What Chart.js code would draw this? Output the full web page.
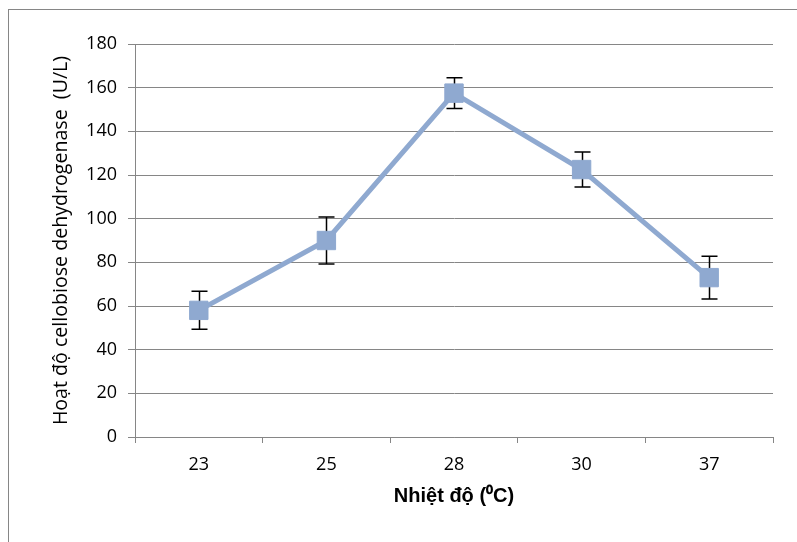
<!DOCTYPE html>
<html>
<head>
<meta charset="utf-8">
<script src="https://cdn.jsdelivr.net/npm/chart.js@4"></script>
<style>
    html, body { margin: 0; padding: 0; background: #fff; }
    #wrap { width: 797px; height: 542px; }
</style>
</head>
<body>
<div id="wrap"><canvas id="temp-chart"></canvas></div>
<script>
'use strict';

// Nhiệt độ (°C) vs hoạt độ CDH
const temperatures = ['23', '25', '28', '30', '37'];
const activity = [58, 90, 157.5, 122.5, 73];
const activityErr = [8.7, 10.8, 7, 8, 9.8];
const yTicks = [0, 20, 40, 60, 80, 100, 120, 140, 160, 180];

const lineColor = 'rgb(143,169,208)';
const gridColor = 'rgb(134,134,134)';

// draws the vertical error bars with caps, using the chart's own scales
const errorBars = {
    id: 'errorBars',
    beforeDatasetsDraw(chart) {
        const ctx = chart.ctx;
        const xs = chart.scales.x, ys = chart.scales.y;
        ctx.save();
        ctx.strokeStyle = '#000';
        ctx.lineWidth = 1.5;
        for (let i = 0; i < activity.length; i++) {
            const x = Math.round(xs.getPixelForValue(i)) + 0.5;
            const top = ys.getPixelForValue(activity[i] + activityErr[i]);
            const bot = ys.getPixelForValue(activity[i] - activityErr[i]);
            ctx.beginPath();
            ctx.moveTo(x, top);
            ctx.lineTo(x, bot);
            ctx.moveTo(x - 8, top);
            ctx.lineTo(x + 8, top);
            ctx.moveTo(x - 8, bot);
            ctx.lineTo(x + 8, bot);
            ctx.stroke();
        }
        ctx.restore();
    }
};

// thin grey frame round the whole chart, like the office export
const outerFrame = {
    id: 'outerFrame',
    beforeDraw(chart) {
        const ctx = chart.ctx;
        ctx.save();
        ctx.strokeStyle = gridColor;
        ctx.lineWidth = 1;
        ctx.strokeRect(8.5, 9.5, 820, 560);
        ctx.restore();
    }
};

const ctx = document.getElementById('temp-chart').getContext('2d');

new Chart(ctx, {
    type: 'line',
    data: {
        labels: temperatures,
        datasets: [{
            data: activity,
            borderColor: lineColor,
            backgroundColor: lineColor,
            borderWidth: 5,
            pointStyle: 'rect',
            pointRadius: 13,
            pointBorderWidth: 1,
            pointBackgroundColor: lineColor,
            pointBorderColor: lineColor,
            tension: 0
        }]
    },
    options: {
        responsive: true,
        maintainAspectRatio: false,
        animation: false,
        layout: { padding: { top: 44, right: 24, left: 0, bottom: 0 } },
        plugins: {
            legend: { display: false },
            tooltip: { enabled: false }
        },
        scales: {
            x: {
                offset: true,
                grid: {
                    offset: true,
                    drawOnChartArea: false,
                    drawTicks: true,
                    tickLength: 6,
                    color: gridColor,
                    lineWidth: 1
                },
                border: { color: gridColor, width: 1 },
                ticks: {
                    color: '#000',
                    padding: 11,
                    font: { family: 'Open Sans', size: 18 }
                },
                title: {
                    display: true,
                    text: 'Nhiệt độ (⁰C)',
                    color: '#000',
                    padding: { top: 0, bottom: 34 },
                    font: { family: 'Liberation Sans', size: 20, weight: 'bold' }
                },
                afterFit(scale) { scale.height = 105; }
            },
            y: {
                min: 0,
                max: 180,
                afterBuildTicks(scale) {
                    scale.ticks = yTicks.map(v => ({ value: v }));
                },
                grid: {
                    color: gridColor,
                    lineWidth: 1,
                    drawTicks: true,
                    tickLength: 7
                },
                border: { color: gridColor, width: 1 },
                ticks: {
                    color: '#000',
                    padding: 11,
                    font: { family: 'Open Sans', size: 18 }
                },
                title: {
                    display: true,
                    text: 'Hoạt độ cellobiose dehydrogenase  (U/L)',
                    color: '#000',
                    padding: { top: 50, bottom: 0 },
                    font: { family: 'Open Sans', size: 19.6 }
                },
                afterFit(scale) { scale.width = 135; }
            }
        }
    },
    plugins: [outerFrame, errorBars]
});
</script>
</body>
</html>
